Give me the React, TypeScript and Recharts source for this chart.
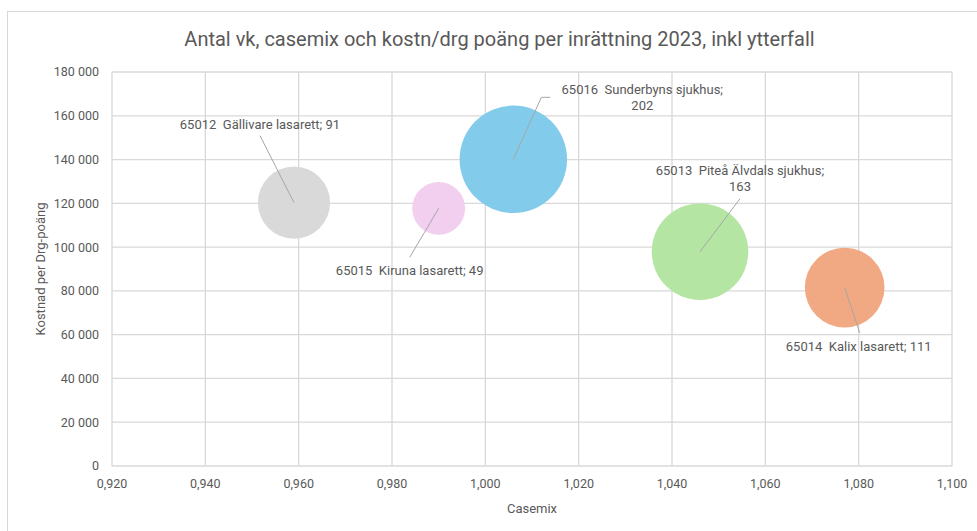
import { ScatterChart, Scatter, XAxis, YAxis, ZAxis, CartesianGrid } from 'recharts';

const hospitalIds = ['65012', '65015', '65016', '65013', '65014'];
const hospitalNames = [
  'Gällivare lasarett',
  'Kiruna lasarett',
  'Sunderbyns sjukhus',
  'Piteå Älvdals sjukhus',
  'Kalix lasarett'
];
const casemix = [0.959, 0.99, 1.006, 1.046, 1.077];
const costPerDrg = [120300, 117700, 140100, 97900, 81500];
const vkCount = [91, 49, 202, 163, 111];
const bubbleColors = ['#d9d9d9', '#f2cfee', '#83cbeb', '#b4e5a2', '#f1a983'];

const xTicks = [0.92, 0.94, 0.96, 0.98, 1.0, 1.02, 1.04, 1.06, 1.08, 1.1];
const yTicks = [0, 20000, 40000, 60000, 80000, 100000, 120000, 140000, 160000, 180000];

// where each data label sits, relative to the bubble centre (excel leader lines)
const labelLayout = [
  { tx: -34, ty: -78, wrap: false, line: [[-34, -67]] },
  { tx: -29, ty: 62, wrap: false, line: [[-29, 49]] },
  { tx: 129, ty: -70, wrap: true, line: [[28, -62], [37, -62]] },
  { tx: 40, ty: -81, wrap: true, line: [[40, -53]] },
  { tx: 14, ty: 59, wrap: false, line: [[15, 45]] }
];

const data = hospitalIds.map((id, i) => ({
  idx: i,
  x: casemix[i],
  y: costPerDrg[i],
  z: vkCount[i]
}));

const FONT = 'Roboto, "Open Sans", sans-serif';
const TEXT = '#595959';

const fmtX = (v: number) => v.toFixed(3).replace('.', ',');
const fmtY = (v: number) => String(v).replace(/\B(?=(\d{3})+(?!\d))/g, ' ');

const Bubble = (props: any) => {
  const { cx, cy, payload } = props;
  const r = props.width ? props.width / 2 : Math.sqrt((props.size || 0) / Math.PI);
  return <circle cx={cx} cy={cy} r={r} fill={bubbleColors[payload.idx]} />;
};

const BubbleLabel = (props: any) => {
  const { cx, cy, payload } = props;
  const i = payload.idx;
  const lay = labelLayout[i];
  const pts = [[cx, cy], ...lay.line.map(([dx, dy]) => [cx + dx, cy + dy])];
  const text = `${hospitalIds[i]}\u00a0 ${hospitalNames[i]};`;
  return (
    <g>
      <polyline
        points={pts.map(p => p.join(',')).join(' ')}
        fill="none"
        stroke="#a6a6a6"
        strokeWidth={1}
      />
      {lay.wrap ? (
        <text x={cx + lay.tx} y={cy + lay.ty} textAnchor="middle" fontSize={13} fill={TEXT} fontFamily={FONT}>
          <tspan x={cx + lay.tx} dy="0.35em">{text}</tspan>
          <tspan x={cx + lay.tx} dy="16">{vkCount[i]}</tspan>
        </text>
      ) : (
        <text x={cx + lay.tx} y={cy + lay.ty} dy="0.35em" textAnchor="middle" fontSize={13} fill={TEXT} fontFamily={FONT}>
          {`${text} ${vkCount[i]}`}
        </text>
      )}
    </g>
  );
};

export default function App() {
  const tick = { fontSize: 12.5, fill: TEXT, fontFamily: FONT };
  return (
    <div style={{ position: 'absolute', left: 0, top: 0, width: 977, height: 531, overflow: 'hidden', background: '#fff' }}>
      {/* chart frame, runs off the right and bottom edge */}
      <div style={{ position: 'absolute', left: 7, top: 11, width: 1100, height: 700, border: '1px solid #d9d9d9' }} />

      <div style={{ position: 'absolute', left: 0, top: 27, width: 999, textAlign: 'center', fontSize: 20, color: TEXT, fontFamily: FONT }}>
        Antal vk, casemix och kostn/drg poäng per inrättning 2023, inkl ytterfall
      </div>

      <div style={{ position: 'absolute', left: 0, top: 0 }}>
        <ScatterChart width={977} height={531} margin={{ top: 72, right: 25, bottom: 35, left: 52 }}>
          <CartesianGrid stroke="#d9d9d9" strokeWidth={1.3} />
          <XAxis
            type="number"
            dataKey="x"
            domain={[0.92, 1.1]}
            ticks={xTicks}
            tickFormatter={fmtX}
            axisLine={false}
            tickLine={false}
            tickMargin={7}
            height={30}
            tick={tick}
            interval={0}
          />
          <YAxis
            type="number"
            dataKey="y"
            domain={[0, 180000]}
            ticks={yTicks}
            tickFormatter={fmtY}
            axisLine={false}
            tickLine={false}
            tickMargin={7}
            width={60}
            tick={tick}
            interval={0}
          />
          <ZAxis type="number" dataKey="z" domain={[0, 200]} range={[0, 9073]} />
          <Scatter data={data} shape={<Bubble />} isAnimationActive={false} />
          <Scatter data={data} shape={<BubbleLabel />} isAnimationActive={false} />
        </ScatterChart>
      </div>

      <div style={{ position: 'absolute', left: 482, top: 501, width: 100, textAlign: 'center', fontSize: 13, color: TEXT, fontFamily: FONT }}>
        Casemix
      </div>
      <div
        style={{
          position: 'absolute',
          left: 40,
          top: 269,
          transform: 'translate(-50%, -50%) rotate(-90deg)',
          whiteSpace: 'nowrap',
          fontSize: 13,
          color: TEXT,
          fontFamily: FONT
        }}
      >
        Kostnad per Drg-poäng
      </div>
    </div>
  );
}
